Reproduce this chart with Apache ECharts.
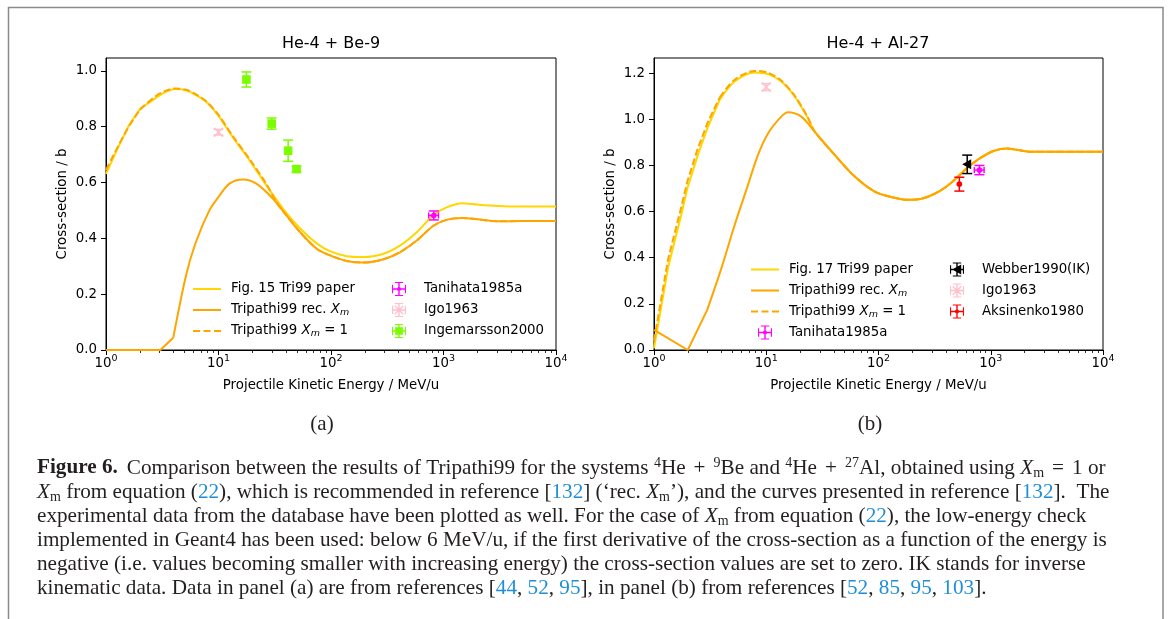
<!DOCTYPE html>
<html><head><meta charset="utf-8">
<script src="https://cdn.jsdelivr.net/npm/echarts@6/dist/echarts.min.js"></script>
<style>html,body{margin:0;padding:0;background:#fff;}#c{width:1170px;height:619px;}</style>
</head><body><div id="c"></div>
<script>
// ---------- data: panel (a) He-4 + Be-9 ----------
const aFigE = [1,1.31,1.6,2,2.78,3.41,4.13,5.15,6.3,7.77,10,13.4,18.9,26.7,37.5,52.9,74.5,98,138,194,293,413,582,820,1079,1469,2000,3015,5000,10000];
const aFigS = [0.631,0.734,0.805,0.863,0.903,0.925,0.935,0.93,0.913,0.889,0.839,0.762,0.679,0.589,0.506,0.436,0.382,0.354,0.336,0.333,0.345,0.375,0.423,0.485,0.512,0.526,0.521,0.516,0.514,0.514];
const aRecE = [1,3.04,3.96,5.15,6.3,8.3,10,12.5,16.5,21.7,30.5,40.2,52.9,74.5,98,138,194,293,413,582,820,1079,1469,2000,3015,5000,10000];
const aRecS = [0,0,0.044,0.268,0.387,0.5,0.548,0.596,0.611,0.596,0.542,0.482,0.423,0.363,0.339,0.319,0.313,0.325,0.351,0.393,0.446,0.467,0.473,0.468,0.461,0.462,0.462];
const aX1E = [1,1.31,1.6,2,2.78,3.41,4.13,5.15,6.3,7.77,10,13.4,18.9,26.7,33,40.2,52.9,74.5,98,138,194,293,413,582,820,1079,1469,2000,3015,5000,10000];
const aX1S = [0.645,0.738,0.802,0.861,0.91,0.929,0.937,0.932,0.916,0.891,0.842,0.766,0.684,0.594,0.527,0.482,0.423,0.363,0.339,0.319,0.313,0.325,0.351,0.393,0.446,0.467,0.473,0.468,0.461,0.462,0.462];
// experimental points: [E, sigma, sigmaErr, relative E err]
const aTanihata = [[820,0.482,0.016,0.1]];
const aIgo = [[10,0.78,0.01,0]];
const aIngemarsson = [[17.7,0.969,0.027,0],[29.7,0.811,0.02,0],[41.6,0.714,0.038,0],[49.4,0.648,0.01,0]];

// ---------- data: panel (b) He-4 + Al-27 ----------
const bFigE = [1,1.33,1.75,1.98,2.46,3.03,3.85,5.23,7.89,10.4,13.6,17.9,23.5,27,40.7,61.4,92.5,135.6,184.5,251,353,464,611,804,1057,1390,2244,3162,10000];
const bFigS = [0.007,0.354,0.586,0.70,0.846,0.969,1.085,1.164,1.203,1.196,1.164,1.099,1.005,0.947,0.846,0.752,0.687,0.661,0.651,0.658,0.69,0.733,0.788,0.832,0.863,0.874,0.86,0.86,0.86];
const bRecE = [1,2,2.98,3.98,5.23,6.88,8.44,10.4,13.6,15.6,20.5,27,40.7,61.4,92.5,135.6,184.5,251,353,464,611,804,1057,1390,2244,3162,10000];
const bRecS = [0.087,0,0.174,0.354,0.542,0.716,0.846,0.94,1.012,1.031,1.012,0.947,0.846,0.752,0.687,0.661,0.651,0.658,0.69,0.733,0.788,0.832,0.863,0.874,0.86,0.86,0.86];
const bX1E = [1,1.33,1.75,1.98,2.46,3.03,3.85,5.23,7.89,10.4,13.6,17.9,23.5,27,40.7,61.4,92.5,135.6,184.5,251,353,464,611,804,1057,1390,2244,3162,10000];
const bX1S = [0.04,0.39,0.62,0.73,0.875,0.99,1.095,1.172,1.21,1.202,1.168,1.103,1.008,0.947,0.846,0.752,0.687,0.661,0.651,0.658,0.69,0.733,0.788,0.832,0.863,0.874,0.86,0.86,0.86];
const bWebber = [[617,0.805,0.04,0]];
const bIgo = [[10,1.14,0.015,0]];
const bAksinenko = [[525,0.719,0.03,0]];
const bTanihata = [[793,0.78,0.02,0.1]];

// ---------- ticks ----------
const xMajor = [1,10,100,1000,10000];
const xMinor = [2,3,4,5,6,7,8,9,20,30,40,50,60,70,80,90,200,300,400,500,600,700,800,900,2000,3000,4000,5000,6000,7000,8000,9000];
const aYTicks = [0,0.2,0.4,0.6,0.8,1.0];
const bYTicks = [0,0.2,0.4,0.6,0.8,1.0,1.2];

// ---------- text ----------
const titleA = 'He-4 + Be-9';
const titleB = 'He-4 + Al-27';
const xName = 'Projectile Kinetic Energy / MeV/u';
const yName = 'Cross-section / b';
const captionLines = [
  [['b','Figure 6.'],['gap',' '],['n','Comparison between the results of Tripathi99 for the systems '],['sup','4'],['n','He'],['op','+'],['sup','9'],['n','Be and '],['sup','4'],['n','He'],['op','+'],['sup','27'],['n','Al, obtained using '],['i','X'],['sub','m'],['op','='],['n','1 or']],
  [['i','X'],['sub','m'],['n',' from equation ('],['r','22'],['n','), which is recommended in reference ['],['r','132'],['n','] (‘rec. '],['i','X'],['sub','m'],['n','’), and the curves presented in reference ['],['r','132'],['n','].  The']],
  [['n','experimental data from the database have been plotted as well. For the case of '],['i','X'],['sub','m'],['n',' from equation ('],['r','22'],['n','), the low-energy check']],
  [['n','implemented in Geant4 has been used: below 6 MeV/u, if the first derivative of the cross-section as a function of the energy is']],
  [['n','negative (i.e. values becoming smaller with increasing energy) the cross-section values are set to zero. IK stands for inverse']],
  [['n','kinematic data. Data in panel (a) are from references ['],['r','44'],['n',', '],['r','52'],['n',', '],['r','95'],['n','], in panel (b) from references ['],['r','52'],['n',', '],['r','85'],['n',', '],['r','95'],['n',', '],['r','103'],['n','].']]
];

// ---------- helpers ----------
const zip = (xs, ys) => xs.map((x, i) => [x, ys[i]]);
const SANS = 'DejaVu Sans';
const SERIF = 'Liberation Serif';
const FS = 13.33;
const CFS = 21.2;
const GOLD = '#FFD700', ORANGE = '#FFA500';

function errRender(color, marker) {
  return function (params, api) {
    const E = api.value(0), s = api.value(1), ey = api.value(2), ex = api.value(3);
    const c = api.coord([E, s]);
    const t = api.coord([E, s + ey]), b = api.coord([E, s - ey]);
    const cap = 5;
    const st = {stroke: color, lineWidth: 1.5, fill: null};
    const ch = [
      {type: 'line', shape: {x1: c[0], y1: t[1], x2: c[0], y2: b[1]}, style: st},
      {type: 'line', shape: {x1: c[0] - cap, y1: t[1], x2: c[0] + cap, y2: t[1]}, style: st},
      {type: 'line', shape: {x1: c[0] - cap, y1: b[1], x2: c[0] + cap, y2: b[1]}, style: st}
    ];
    if (ex > 0) {
      const l = api.coord([E * (1 - ex), s]), r = api.coord([E * (1 + ex), s]);
      ch.push({type: 'line', shape: {x1: l[0], y1: c[1], x2: r[0], y2: c[1]}, style: st});
      ch.push({type: 'line', shape: {x1: l[0], y1: c[1] - 3, x2: l[0], y2: c[1] + 3}, style: st});
      ch.push({type: 'line', shape: {x1: r[0], y1: c[1] - 3, x2: r[0], y2: c[1] + 3}, style: st});
    }
    if (marker === 'dot') ch.push({type: 'circle', shape: {cx: c[0], cy: c[1], r: 2.8}, style: {fill: color}});
    if (marker === 'square') ch.push({type: 'rect', shape: {x: c[0] - 4.3, y: c[1] - 4.3, width: 8.6, height: 8.6}, style: {fill: color}});
    if (marker === 'tri') ch.push({type: 'polygon', shape: {points: [[c[0] - 5, c[1]], [c[0] + 4, c[1] - 5], [c[0] + 4, c[1] + 5]]}, style: {fill: color}});
    if (marker === 'x') {
      ch.push({type: 'line', shape: {x1: c[0] - 4.5, y1: c[1] - 4.5, x2: c[0] + 4.5, y2: c[1] + 4.5}, style: st});
      ch.push({type: 'line', shape: {x1: c[0] - 4.5, y1: c[1] + 4.5, x2: c[0] + 4.5, y2: c[1] - 4.5}, style: st});
    }
    return {type: 'group', children: ch};
  };
}
function pointSeries(name, data, color, marker, xi, yi) {
  return {type: 'custom', name: name, xAxisIndex: xi, yAxisIndex: yi, data: data,
    dimensions: ['E', 's', 'ey', 'ex'], encode: {x: 0, y: 1}, itemStyle: {color: color},
    renderItem: errRender(color, marker), z: 5, silent: true};
}
// a curve: straight segments up to index k (the kinked low-energy part), smooth afterwards
function lineSeries(name, xs, ys, color, dashed, xi, yi, z, k) {
  const pts = zip(xs, ys);
  const base = {type: 'line', name: name, xAxisIndex: xi, yAxisIndex: yi,
    symbol: 'none', z: z, silent: true, animation: false,
    itemStyle: {color: color},
    lineStyle: {color: color, width: 2, type: dashed ? [7, 3] : 'solid'}};
  return [
    Object.assign({}, base, {data: pts.slice(0, k + 1), smooth: false}),
    Object.assign({}, base, {data: pts.slice(k), smooth: 0.3})
  ];
}

const EB = 'M0,9 L20,9 L20,11 L0,11 Z M9,0 L11,0 L11,20 L9,20 Z M4,0 L16,0 L16,1.6 L4,1.6 Z M4,18.4 L16,18.4 L16,20 L4,20 Z M0,4 L1.6,4 L1.6,16 L0,16 Z M18.4,4 L20,4 L20,16 L18.4,16 Z';
const ICON_DOT = 'path://' + EB + ' M7,10 A3,3 0 1 1 13,10 A3,3 0 1 1 7,10 Z';
const ICON_SQ = 'path://' + EB + ' M4.5,4.5 L15.5,4.5 L15.5,15.5 L4.5,15.5 Z';
const ICON_TRI = 'path://' + EB + ' M3,10 L16,3 L16,17 Z';
const ICON_X = 'path://' + EB + ' M4.5,3.2 L16.8,15.5 L15.5,16.8 L3.2,4.5 Z M15.5,3.2 L16.8,4.5 L4.5,16.8 L3.2,15.5 Z';
const ICON_LINE = 'path://M0,0 L28,0 L28,2 L0,2 Z';
const ICON_DASH = 'path://M0,0 L7,0 L7,2 L0,2 Z M10.5,0 L17.5,0 L17.5,2 L10.5,2 Z M21,0 L28,0 L28,2 L21,2 Z';

const legRich = {
  t: {fontFamily: SANS, fontSize: FS, lineHeight: 20, color: '#000'},
  i: {fontFamily: SANS, fontSize: FS, fontStyle: 'italic', lineHeight: 20, color: '#000'},
  s: {fontFamily: SANS, fontSize: 9.5, fontStyle: 'italic', lineHeight: 10, padding: [6, 0, 0, 0], color: '#000'},
  g: {width: 5, lineHeight: 20}
};
function legFmt(spacer) {
  return function (name) {
    const p = spacer ? '{g| }' : '';
    if (name === 'Tripathi99 rec. Xm') return p + '{t|Tripathi99 rec. }{i|X}{s|m}';
    if (name === 'Tripathi99 Xm=1') return p + '{t|Tripathi99 }{i|X}{s|m}{t| = 1}';
    return p + '{t|' + name + '}';
  };
}
function legend(left, top, items, width, spacer) {
  return {left: left, top: top, orient: 'vertical', itemWidth: width, itemHeight: 14, itemGap: 1,
    padding: 0, selectedMode: false, data: items, formatter: legFmt(spacer),
    textStyle: {fontFamily: SANS, fontSize: FS, color: '#000', lineHeight: 20, rich: legRich}};
}

function xAxes(gi) {
  return [
    {type: 'log', logBase: 10, gridIndex: gi, min: 1, max: 10000, position: 'bottom',
      name: xName, nameLocation: 'middle', nameGap: 28,
      nameTextStyle: {fontFamily: SANS, fontSize: FS, color: '#000', lineHeight: 16},
      axisLine: {show: true, lineStyle: {color: '#000', width: 1}},
      axisTick: {show: true, length: 5, customValues: xMajor, lineStyle: {color: '#000', width: 1}},
      axisLabel: {show: true, customValues: xMajor, margin: 6,
        formatter: v => '{b|10}{s|' + Math.round(Math.log10(v)) + '}',
        rich: {b: {fontFamily: SANS, fontSize: FS, lineHeight: 16, color: '#000'},
               s: {fontFamily: SANS, fontSize: 9.5, lineHeight: 8, padding: [0, 0, 11, 0], color: '#000'}}},
      splitLine: {show: false}, minorTick: {show: false}},
    {type: 'log', logBase: 10, gridIndex: gi, min: 1, max: 10000, position: 'bottom',
      axisLine: {show: false}, axisLabel: {show: false}, splitLine: {show: false},
      axisTick: {show: true, length: 3, customValues: xMinor, lineStyle: {color: '#000', width: 0.8}}}
  ];
}
function yAxis(gi, max, ticks) {
  return {type: 'value', gridIndex: gi, min: 0, max: max,
    name: yName, nameLocation: 'middle', nameGap: 35,
    nameTextStyle: {fontFamily: SANS, fontSize: FS, color: '#000', lineHeight: 16},
    axisLine: {show: true, lineStyle: {color: '#000', width: 1}},
    axisTick: {show: true, length: 5, customValues: ticks, lineStyle: {color: '#000', width: 1}},
    axisLabel: {customValues: ticks, margin: 9, formatter: v => v.toFixed(1),
      fontFamily: SANS, fontSize: FS, color: '#000'},
    splitLine: {show: false}};
}

// caption rich styles (zrender style: fill)
const INK = '#231f20', BLUE = '#1f8fd8';
const capRich = {
  n: {fontFamily: SERIF, fontSize: CFS, lineHeight: 24, fill: INK},
  b: {fontFamily: SERIF, fontSize: CFS, fontWeight: 'bold', lineHeight: 24, fill: INK},
  gap: {fontFamily: SERIF, fontSize: CFS, lineHeight: 24, width: 9, fill: INK},
  op: {fontFamily: SERIF, fontSize: CFS, lineHeight: 24, width: 28, align: 'center', fill: INK},
  r: {fontFamily: SERIF, fontSize: CFS, lineHeight: 24, fill: BLUE},
  i: {fontFamily: SERIF, fontSize: CFS, fontStyle: 'italic', lineHeight: 24, fill: INK},
  sub: {fontFamily: SERIF, fontSize: 14, lineHeight: 14, padding: [10, 0, 0, 0], fill: INK},
  sup: {fontFamily: SERIF, fontSize: 14, lineHeight: 14, padding: [0, 0, 10, 0], fill: INK}
};
const captionGraphics = captionLines.map((segs, k) => ({
  type: 'text', x: 37, y: 468 + 24 * k, silent: true,
  style: {text: segs.map(s => '{' + s[0] + '|' + s[1] + '}').join(''), rich: capRich, fill: INK,
    align: 'left', verticalAlign: 'middle', textAlign: 'left', textVerticalAlign: 'middle'}
}));

const chart = echarts.init(document.getElementById('c'), null, {renderer: 'canvas', width: 1170, height: 619});
chart.setOption({
  animation: false,
  backgroundColor: '#fff',
  title: [
    {text: titleA, left: 331, top: 35, textAlign: 'center', padding: 0,
      textStyle: {fontFamily: SANS, fontSize: 16, fontWeight: 'normal', color: '#000', lineHeight: 18}},
    {text: titleB, left: 878, top: 35, textAlign: 'center', padding: 0,
      textStyle: {fontFamily: SANS, fontSize: 16, fontWeight: 'normal', color: '#000', lineHeight: 18}}
  ],
  grid: [
    {left: 106, top: 58, width: 450, height: 292, show: true, borderColor: '#000', borderWidth: 1, backgroundColor: 'transparent'},
    {left: 654, top: 58, width: 449, height: 292, show: true, borderColor: '#000', borderWidth: 1, backgroundColor: 'transparent'}
  ],
  xAxis: xAxes(0).concat(xAxes(1)),
  yAxis: [yAxis(0, 1.046, aYTicks), yAxis(1, 1.266, bYTicks)],
  legend: [
    legend(193, 279, [{name: 'Fig. 15 Tri99 paper', icon: ICON_LINE}, {name: 'Tripathi99 rec. Xm', icon: ICON_LINE}, {name: 'Tripathi99 Xm=1', icon: ICON_DASH}], 28, true),
    legend(392, 279, [{name: 'Tanihata1985a', icon: ICON_DOT}, {name: 'Igo1963', icon: ICON_X}, {name: 'Ingemarsson2000', icon: ICON_SQ}], 40, false),
    legend(751, 259.5, [{name: 'Fig. 17 Tri99 paper', icon: ICON_LINE}, {name: 'Tripathi99 rec. Xm', icon: ICON_LINE}, {name: 'Tripathi99 Xm=1', icon: ICON_DASH}, {name: 'Tanihata1985a', icon: ICON_DOT}], 28, true),
    legend(950, 259.5, [{name: 'Webber1990(IK)', icon: ICON_TRI}, {name: 'Igo1963', icon: ICON_X}, {name: 'Aksinenko1980', icon: ICON_DOT}], 40, false)
  ],
  series: [].concat(
    lineSeries('Fig. 15 Tri99 paper', aFigE, aFigS, GOLD, false, 0, 0, 2, 3),
    lineSeries('Tripathi99 rec. Xm', aRecE, aRecS, ORANGE, false, 0, 0, 3, 2),
    lineSeries('Tripathi99 Xm=1', aX1E, aX1S, ORANGE, true, 0, 0, 4, 3),
    [pointSeries('Tanihata1985a', aTanihata, '#FF00FF', 'dot', 0, 0),
     pointSeries('Igo1963', aIgo, '#FFC0CB', 'x', 0, 0),
     pointSeries('Ingemarsson2000', aIngemarsson, '#7CFC00', 'square', 0, 0)],
    lineSeries('Fig. 17 Tri99 paper', bFigE, bFigS, GOLD, false, 2, 1, 2, 6),
    lineSeries('Tripathi99 rec. Xm', bRecE, bRecS, ORANGE, false, 2, 1, 3, 2),
    lineSeries('Tripathi99 Xm=1', bX1E, bX1S, ORANGE, true, 2, 1, 4, 6),
    [pointSeries('Webber1990(IK)', bWebber, '#000000', 'tri', 2, 1),
     pointSeries('Igo1963', bIgo, '#FFC0CB', 'x', 2, 1),
     pointSeries('Aksinenko1980', bAksinenko, '#FF0000', 'dot', 2, 1),
     pointSeries('Tanihata1985a', bTanihata, '#FF00FF', 'dot', 2, 1)]
  ),
  graphic: [
    {type: 'polyline', silent: true, shape: {points: [[8.5, 640], [8.5, 7.5], [1163, 7.5], [1163, 640]]}, style: {stroke: '#8a8a8a', lineWidth: 1.5, fill: null}},
    {type: 'text', x: 322, y: 424, silent: true, style: {text: '(a)', fontFamily: SERIF, fontSize: 21, fill: INK, align: 'center', verticalAlign: 'middle', textAlign: 'center', textVerticalAlign: 'middle'}},
    {type: 'text', x: 870, y: 424, silent: true, style: {text: '(b)', fontFamily: SERIF, fontSize: 21, fill: INK, align: 'center', verticalAlign: 'middle', textAlign: 'center', textVerticalAlign: 'middle'}}
  ].concat(captionGraphics)
});
</script></body></html>
